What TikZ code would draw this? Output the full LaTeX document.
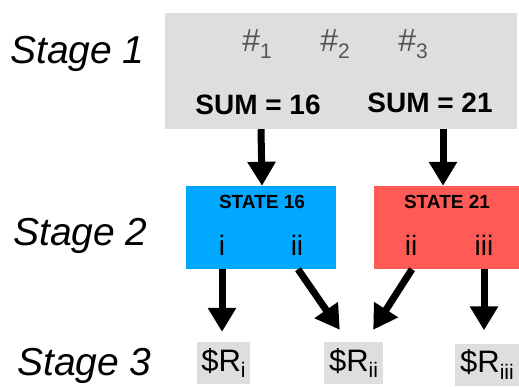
\documentclass[tikz,border=0pt]{standalone}
\usepackage{fontspec}
\setmainfont{Liberation Sans}
\usetikzlibrary{arrows.meta}

\definecolor{boxgray}{HTML}{DEDEDE}
\definecolor{stateblue}{HTML}{00A8FF}
\definecolor{statered}{HTML}{FF5A55}
\definecolor{hashgray}{HTML}{555555}
\newcommand{\lowidx}[1]{\raisebox{-0.2em}{\fontsize{21}{21}\selectfont #1}}

\begin{document}
\begin{tikzpicture}[x=1pt,y=-1pt,
    stage/.style={anchor=base west,inner sep=0pt,font=\fontsize{39}{39}\itshape},
    statebox/.style={minimum height=83pt,inner sep=0pt},
    hash/.style={text=hashgray,font=\fontsize{32}{32}\selectfont},
    sumlbl/.style={font=\fontsize{28}{28}\bfseries},
    statelbl/.style={font=\fontsize{19}{19}\bfseries},
    choice/.style={font=\fontsize{28}{28}\selectfont},
    reward/.style={fill=boxgray,inner sep=0pt,minimum height=42pt,font=\fontsize{31}{31}\selectfont},
    arr/.style={line width=7pt,-{Triangle[width=27pt,length=24pt]}}
]
\useasboundingbox (0,0) rectangle (519,386);
% stage labels
\node[stage] (s1) at (10,63) {Stage 1};
\node[stage] (s2) at (13,245) {Stage 2};
\node[stage] (s3) at (17,375) {Stage 3};
% stage 1
\node[fill=boxgray,minimum width=352pt,minimum height=116pt,inner sep=0pt] (sums) at (341,71) {};
\node[hash] (h1) at (257,44) {\#\lowidx{1}};
\node[hash] (h2) at (335,44) {\#\lowidx{2}};
\node[hash] (h3) at (413,44) {\#\lowidx{3}};
\node[sumlbl] (sum1) at (258,105) {SUM = 16};
\node[sumlbl] (sum2) at (430,103) {SUM = 21};
% stage 2
\node[statebox,fill=stateblue,minimum width=150pt] (st16) at (261,227.5) {};
\node[statebox,fill=statered,minimum width=145pt] (st21) at (446.5,227.5) {};
\node[statelbl] (t16) at (262,202) {STATE 16};
\node[statelbl] (t21) at (447,202) {STATE 21};
\node[choice] (ia) at (222,245) {i};
\node[choice] (iia) at (297,245) {ii};
\node[choice] (iib) at (411,245) {ii};
\node[choice] (iiib) at (484,245) {iii};
% stage 3
\node[reward,minimum width=53pt] (ri) at (223.5,363) {\$R\lowidx{i}};
\node[reward,minimum width=59pt] (rii) at (353.5,363) {\$R\lowidx{ii}};
\node[reward,minimum width=64pt] (riii) at (487,364.5) {\$R\lowidx{iii}};
% arrows
\draw[arr] (st16.north |- sums.south) -- ([xshift=1pt]st16.north);
\draw[arr] ([xshift=-3.5pt]st21.north |- sums.south) -- ([xshift=-3.5pt]st21.north);
\draw[arr] (ia |- st16.south) -- ([shift={(0,-10)}]ri.north -| ia);
\draw[arr] ([xshift=1pt]iia |- st16.south) -- ([shift={(16,-12)}]rii.north west);
\draw[arr] ([xshift=1pt]iib |- st21.south) -- ([shift={(-10,-12)}]rii.north east);
\draw[arr] (iiib |- st21.south) -- ([shift={(0,-13)}]riii.north -| iiib);
\end{tikzpicture}
\end{document}
